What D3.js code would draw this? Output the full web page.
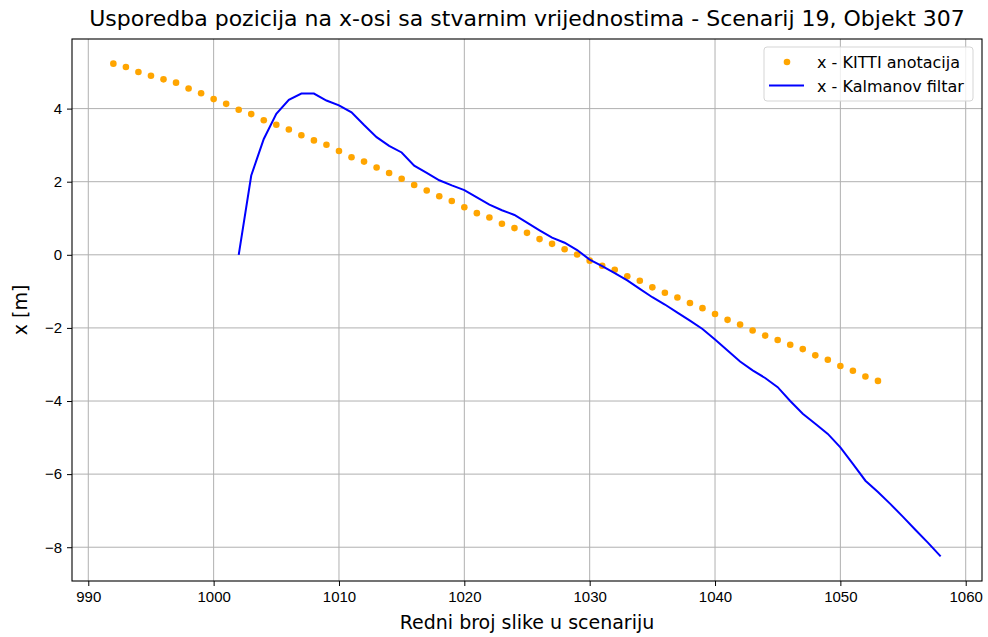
<!DOCTYPE html>
<html>
<head>
<meta charset="utf-8">
<script src="https://cdn.jsdelivr.net/npm/d3@7"></script>
<style>
  body { margin: 0; background: #fff; }
  svg { font-family: "DejaVu Sans", sans-serif; }
  .grid line { stroke: #b0b0b0; stroke-width: 1; }
  .axis text { fill: #000; font-size: 15px; }
  .axis line, .axis path { stroke: #000; }
</style>
</head>
<body>
<div id="chart"></div>
<script>
  // KITTI annotations, frames 992..1053
  const kittiFrames = d3.range(992, 1054);
  const kittiX = [
    5.23, 5.14, 5.00, 4.90, 4.80, 4.71, 4.55, 4.42, 4.26, 4.13,
    3.97, 3.85, 3.68, 3.56, 3.43, 3.27, 3.13, 3.01, 2.84, 2.67,
    2.55, 2.39, 2.24, 2.08, 1.91, 1.76, 1.60, 1.47, 1.30, 1.14,
    1.02, 0.85, 0.73, 0.60, 0.43, 0.30, 0.15, 0.01, -0.16, -0.30,
    -0.41, -0.59, -0.71, -0.89, -1.04, -1.17, -1.32, -1.46, -1.62, -1.78,
    -1.91, -2.07, -2.21, -2.33, -2.46, -2.58, -2.75, -2.87, -3.04, -3.17,
    -3.33, -3.45
  ];

  // Kalman filter estimate, frames 1002..1058
  const kalmanFrames = d3.range(1002, 1059);
  const kalmanX = [
    0.00, 2.17, 3.17, 3.86, 4.24, 4.41, 4.41, 4.22, 4.09, 3.90,
    3.55, 3.22, 2.98, 2.80, 2.44, 2.24, 2.04, 1.90, 1.77, 1.57,
    1.37, 1.22, 1.09, 0.88, 0.67, 0.47, 0.33, 0.13, -0.13, -0.31,
    -0.50, -0.70, -0.93, -1.16, -1.36, -1.58, -1.80, -2.03, -2.32, -2.62,
    -2.92, -3.16, -3.37, -3.62, -4.00, -4.35, -4.62, -4.90, -5.27, -5.72,
    -6.18, -6.49, -6.82, -7.17, -7.53, -7.88, -8.25
  ];

  const xTicks = [990, 1000, 1010, 1020, 1030, 1040, 1050, 1060];
  const yTicks = [-8, -6, -4, -2, 0, 2, 4];

  const title = 'Usporedba pozicija na x-osi sa stvarnim vrijednostima - Scenarij 19, Objekt 307';
  const xLabel = 'Redni broj slike u scenariju';
  const yLabel = 'x [m]';
  const legendLabels = ['x - KITTI anotacija', 'x - Kalmanov filtar'];

  const width = 988;
  const height = 637;
  const margin = { top: 39, right: 6, bottom: 56, left: 72 };

  const svg = d3.select('#chart').append('svg')
    .attr('width', width)
    .attr('height', height);

  // 5% padding like matplotlib
  const allX = kittiFrames.concat(kalmanFrames);
  const allY = kittiX.concat(kalmanX);
  const [x0, x1] = d3.extent(allX);
  const [y0, y1] = d3.extent(allY);
  const px = (x1 - x0) * 0.05;
  const py = (y1 - y0) * 0.05;

  const x = d3.scaleLinear()
    .domain([x0 - px, x1 + px])
    .range([margin.left, width - margin.right]);
  const y = d3.scaleLinear()
    .domain([y0 - py, y1 + py])
    .range([height - margin.bottom, margin.top]);

  // grid
  const grid = svg.append('g').attr('class', 'grid');
  grid.selectAll('.gx').data(xTicks).join('line')
    .attr('x1', d => x(d)).attr('x2', d => x(d))
    .attr('y1', margin.top).attr('y2', height - margin.bottom);
  grid.selectAll('.gy').data(yTicks).join('line')
    .attr('x1', margin.left).attr('x2', width - margin.right)
    .attr('y1', d => y(d)).attr('y2', d => y(d));

  // KITTI dots
  svg.append('g').selectAll('circle')
    .data(kittiFrames.map((f, i) => [f, kittiX[i]]))
    .join('circle')
    .attr('cx', d => x(d[0]))
    .attr('cy', d => y(d[1]))
    .attr('r', 3.3)
    .attr('fill', '#FFA500');

  // Kalman line
  const line = d3.line().x(d => x(d[0])).y(d => y(d[1]));
  svg.append('path')
    .datum(kalmanFrames.map((f, i) => [f, kalmanX[i]]))
    .attr('fill', 'none')
    .attr('stroke', '#0000FF')
    .attr('stroke-width', 2)
    .attr('d', line);

  // axes
  const fmt = d => (d < 0 ? '\u2212' + Math.abs(d) : String(d));
  svg.append('g')
    .attr('class', 'axis')
    .attr('transform', `translate(0,${height - margin.bottom})`)
    .call(d3.axisBottom(x).tickValues(xTicks).tickFormat(fmt).tickSize(5).tickPadding(5))
    .call(g => g.select('.domain').remove());
  svg.append('g')
    .attr('class', 'axis')
    .attr('transform', `translate(${margin.left},0)`)
    .call(d3.axisLeft(y).tickValues(yTicks).tickFormat(fmt).tickSize(5).tickPadding(5))
    .call(g => g.select('.domain').remove());

  // frame
  svg.append('rect')
    .attr('x', margin.left).attr('y', margin.top)
    .attr('width', width - margin.left - margin.right)
    .attr('height', height - margin.top - margin.bottom)
    .attr('fill', 'none')
    .attr('stroke', '#000')
    .attr('stroke-width', 1.1);

  // texts
  svg.append('text')
    .attr('x', (margin.left + width - margin.right) / 2)
    .attr('y', 26)
    .attr('text-anchor', 'middle')
    .attr('font-size', 22)
    .text(title);
  svg.append('text')
    .attr('x', (margin.left + width - margin.right) / 2)
    .attr('y', 629)
    .attr('text-anchor', 'middle')
    .attr('font-size', 19)
    .text(xLabel);
  svg.append('text')
    .attr('transform', `translate(27,${(margin.top + height - margin.bottom) / 2}) rotate(-90)`)
    .attr('text-anchor', 'middle')
    .attr('font-size', 19)
    .text(yLabel);

  // legend
  const lg = svg.append('g').attr('transform', 'translate(764,47)');
  lg.append('rect')
    .attr('width', 209).attr('height', 54).attr('rx', 3)
    .attr('fill', '#fff').attr('fill-opacity', 0.8)
    .attr('stroke', '#d5d5d5');
  lg.append('circle').attr('cx', 23).attr('cy', 15).attr('r', 3.3).attr('fill', '#FFA500');
  lg.append('line')
    .attr('x1', 5).attr('x2', 40).attr('y1', 38.5).attr('y2', 38.5)
    .attr('stroke', '#0000FF').attr('stroke-width', 2);
  lg.selectAll('text').data(legendLabels).join('text')
    .attr('x', 53)
    .attr('y', (d, i) => 21 + i * 23.5)
    .attr('font-size', 16)
    .text(d => d);
</script>
</body>
</html>
